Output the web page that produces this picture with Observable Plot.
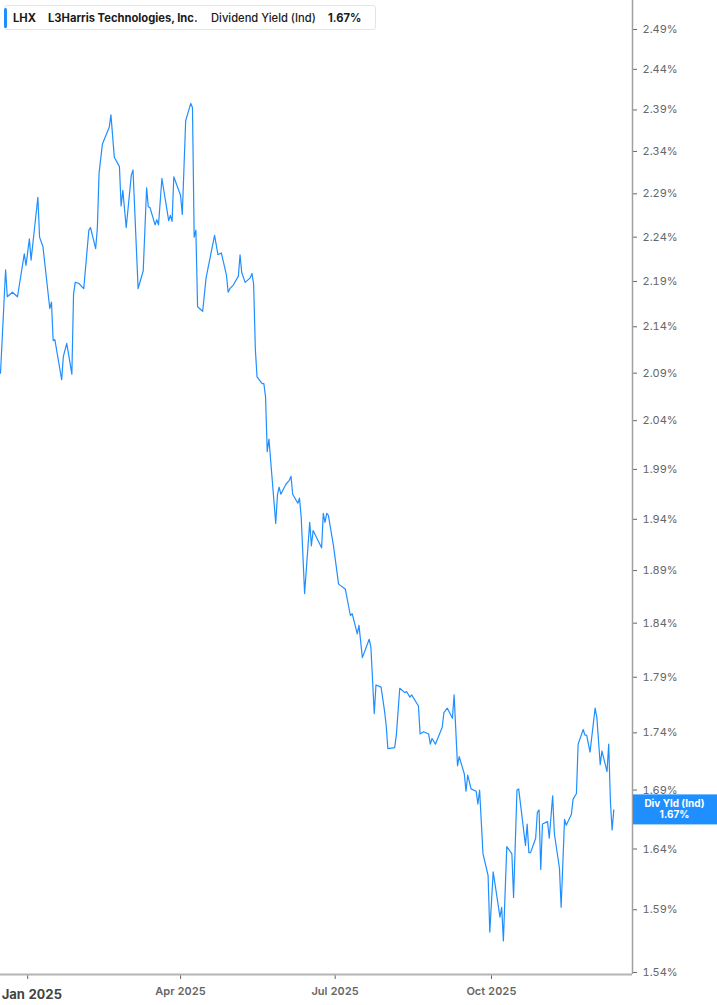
<!DOCTYPE html>
<html>
<head>
<meta charset="utf-8">
<script src="https://cdn.jsdelivr.net/npm/d3@7"></script>
<script src="https://cdn.jsdelivr.net/npm/@observablehq/plot@0.6"></script>
<style>
  html, body { margin: 0; padding: 0; background: #fff; }
  body { font-family: Inter, "Noto Sans", sans-serif; }
  #wrap { position: relative; width: 717px; height: 1005px; overflow: hidden; }
  #legend {
    position: absolute; left: 4px; top: 5px; width: 372px; height: 25px;
    background: #fff; border: 1px solid #e4e4e4; border-radius: 3px; box-sizing: border-box;
    font-size: 11.2px; color: #1a1a1a;
  }
  #legend .bar { position: absolute; left: -1px; top: 2px; width: 3px; height: 20px; background: #1f8fff; border-radius: 2px; }
  #legend span.t { position: absolute; top: 5px; white-space: nowrap; line-height: 14px; }
</style>
</head>
<body>
<div id="wrap">
  <div id="chart"></div>
  <div id="legend">
    <div class="bar"></div>
    <span class="t" id="lg-ticker" style="left:8px;font-weight:700"></span>
    <span class="t" id="lg-name" style="left:43px;font-weight:700"></span>
    <span class="t" id="lg-metric" style="left:206px;font-weight:500"></span>
    <span class="t" id="lg-value" style="left:323px;font-weight:700"></span>
  </div>
</div>
<script>
// ---- data ----
const dates = [
  "2024-12-16","2024-12-19","2024-12-20","2024-12-23","2024-12-26","2024-12-30","2024-12-31",
  "2025-01-02","2025-01-03","2025-01-07","2025-01-08","2025-01-10","2025-01-14","2025-01-15",
  "2025-01-16","2025-01-17","2025-01-21","2025-01-22","2025-01-24","2025-01-27","2025-01-28",
  "2025-01-29","2025-01-31","2025-02-03","2025-02-06","2025-02-07","2025-02-10","2025-02-11",
  "2025-02-12","2025-02-14","2025-02-18","2025-02-19","2025-02-21","2025-02-24","2025-02-25",
  "2025-02-26","2025-02-28","2025-03-03","2025-03-04","2025-03-07","2025-03-10","2025-03-12",
  "2025-03-13","2025-03-14","2025-03-17","2025-03-18","2025-03-19","2025-03-21","2025-03-25",
  "2025-03-26","2025-03-27","2025-03-28","2025-04-01","2025-04-02","2025-04-04","2025-04-07",
  "2025-04-08","2025-04-09","2025-04-10","2025-04-11","2025-04-14","2025-04-16","2025-04-21",
  "2025-04-23","2025-04-25","2025-04-28","2025-04-29","2025-04-30","2025-05-02","2025-05-05",
  "2025-05-06","2025-05-07","2025-05-09","2025-05-12","2025-05-13","2025-05-14","2025-05-15",
  "2025-05-16","2025-05-19","2025-05-20","2025-05-21","2025-05-22","2025-05-23","2025-05-27",
  "2025-05-28","2025-05-29","2025-05-30","2025-06-02","2025-06-04","2025-06-05","2025-06-06",
  "2025-06-09","2025-06-10","2025-06-11","2025-06-13","2025-06-16","2025-06-17","2025-06-18",
  "2025-06-23","2025-06-24","2025-06-25","2025-06-26","2025-06-27","2025-06-30","2025-07-03",
  "2025-07-07","2025-07-09","2025-07-10","2025-07-11","2025-07-14","2025-07-15","2025-07-17",
  "2025-07-21","2025-07-22","2025-07-24","2025-07-25","2025-07-28","2025-07-30","2025-07-31",
  "2025-08-01","2025-08-05","2025-08-06","2025-08-08","2025-08-11","2025-08-12","2025-08-14",
  "2025-08-15","2025-08-19","2025-08-20","2025-08-22","2025-08-25","2025-08-26","2025-08-27",
  "2025-08-29","2025-09-02","2025-09-03","2025-09-05","2025-09-08","2025-09-09","2025-09-11",
  "2025-09-12","2025-09-15","2025-09-16","2025-09-17","2025-09-19","2025-09-22","2025-09-23",
  "2025-09-24","2025-09-26","2025-09-29","2025-09-30","2025-10-02","2025-10-06","2025-10-07",
  "2025-10-08","2025-10-10","2025-10-13","2025-10-14","2025-10-16","2025-10-17","2025-10-21",
  "2025-10-22","2025-10-23","2025-10-24","2025-10-27","2025-10-28","2025-10-29","2025-10-30",
  "2025-10-31","2025-11-03","2025-11-04","2025-11-06","2025-11-07","2025-11-10","2025-11-11",
  "2025-11-13","2025-11-14","2025-11-17","2025-11-18","2025-11-20","2025-11-21","2025-11-24",
  "2025-11-25","2025-11-26","2025-11-28","2025-12-01","2025-12-02","2025-12-04","2025-12-05",
  "2025-12-08","2025-12-09","2025-12-10","2025-12-11","2025-12-12"
];
const divYield = [
  2.090,2.203,2.173,2.178,2.173,2.221,2.208,
  2.238,2.214,2.286,2.240,2.229,2.160,2.167,
  2.125,2.126,2.083,2.108,2.122,2.089,2.176,
  2.189,2.188,2.182,2.248,2.251,2.227,2.250,
  2.314,2.349,2.369,2.384,2.333,2.322,2.276,
  2.294,2.251,2.312,2.318,2.182,2.202,2.297,
  2.275,2.274,2.254,2.260,2.254,2.308,2.259,
  2.265,2.258,2.310,2.288,2.266,2.377,2.398,
  2.393,2.240,2.248,2.162,2.157,2.194,2.242,
  2.220,2.222,2.197,2.178,2.182,2.186,2.196,
  2.220,2.200,2.189,2.194,2.199,2.187,2.116,
  2.086,2.079,2.079,2.065,2.008,2.021,1.936,
  1.964,1.972,1.965,1.975,1.979,1.983,1.965,
  1.956,1.961,1.942,1.868,1.937,1.914,1.929,
  1.912,1.946,1.937,1.946,1.944,1.914,1.877,
  1.872,1.855,1.847,1.849,1.830,1.838,1.808,
  1.825,1.818,1.757,1.783,1.781,1.760,1.747,
  1.726,1.727,1.738,1.780,1.776,1.777,1.772,
  1.774,1.764,1.739,1.741,1.739,1.730,1.735,
  1.730,1.745,1.758,1.762,1.753,1.774,1.711,
  1.719,1.704,1.689,1.703,1.691,1.689,1.678,
  1.690,1.636,1.618,1.572,1.621,1.584,1.592,
  1.565,1.642,1.636,1.600,1.690,1.691,1.643,
  1.661,1.637,1.637,1.649,1.671,1.673,1.623,
  1.661,1.663,1.649,1.685,1.653,1.624,1.592,
  1.665,1.660,1.669,1.682,1.687,1.730,1.743,
  1.738,1.738,1.723,1.762,1.754,1.712,1.724,
  1.706,1.730,1.680,1.656,1.673
];
const yTicks = [1.54,1.59,1.64,1.69,1.74,1.79,1.84,1.89,1.94,1.99,2.04,2.09,2.14,2.19,2.24,2.29,2.34,2.39,2.44,2.49];
const xTickDates = ["2025-01-01","2025-04-01","2025-07-01","2025-10-01"];
const xTickLabels = ["Jan 2025","Apr 2025","Jul 2025","Oct 2025"];
const xDomain = ["2024-12-16","2025-12-23"];
const yDomain = [1.5384, 2.5271];
const ticker = "LHX";
const company = "L3Harris Technologies, Inc.";
const metric = "Dividend Yield (Ind)";
const endLabel = "Div Yld (Ind)";

// ---- build ----
const parse = d3.utcParse("%Y-%m-%d");
const data = dates.map((d, i) => ({date: parse(d), value: divYield[i]}));
const last = data[data.length - 1];
const fmtPct = v => d3.format(".2f")(v) + "%";
const blue = "#1f8fff";
const tickDates = xTickDates.map(parse);
const labelOf = d => xTickLabels[tickDates.findIndex(t => +t === +d)];

const plot = Plot.plot({
  width: 717,
  height: 1005,
  marginLeft: 0,
  marginRight: 85,
  marginTop: 0,
  marginBottom: 31,
  style: {fontFamily: "Inter, 'Noto Sans', sans-serif", fontSize: "11px", background: "#fff", overflow: "visible"},
  x: {type: "utc", domain: xDomain.map(parse), axis: null, label: null},
  y: {type: "log", domain: yDomain, axis: null, label: null},
  marks: [
    Plot.axisY(yTicks, {anchor: "right", label: null, tickSize: 4, tickPadding: 6, tickFormat: fmtPct, color: "#666", fontSize: 11, strokeWidth: 1}),
    // ticks for all months, labels for all but the first (bold, left-aligned) one
    Plot.axisX(tickDates, {anchor: "bottom", label: null, tickSize: 5, tickPadding: 8,
      tickFormat: d => (+d === +tickDates[0] ? "" : labelOf(d)), color: "#666", fontSize: 11, fontWeight: 600}),
    Plot.axisX([tickDates[0]], {anchor: "bottom", label: null, tickSize: 0, tickPadding: 15, tickFormat: labelOf,
      fill: "#444", fontSize: 13, fontWeight: "bold", textAnchor: "start", dx: -26}),
    Plot.ruleX([parse(xDomain[1])], {stroke: "#a0a0a0", strokeWidth: 1.5}),
    Plot.ruleY([yDomain[0]], {stroke: "#b4b4b4", strokeWidth: 2}),
    Plot.line(data, {x: "date", y: "value", stroke: blue, strokeWidth: 1.2, curve: "linear"})
  ]
});
document.getElementById("chart").appendChild(plot);

// end-of-series value label, positioned with the plot's own scales
const sx = plot.scale("x"), sy = plot.scale("y");
const xr = sx.apply(parse(xDomain[1]));
const yv = sy.apply(last.value);
const g = d3.select(plot).append("g").attr("font-family", "Inter, 'Noto Sans', sans-serif");
g.append("rect").attr("x", xr + 1).attr("y", yv - 15).attr("width", 717 - xr - 1).attr("height", 30).attr("fill", blue);
g.append("text").attr("x", (xr + 717) / 2).attr("y", yv - 5.5).attr("text-anchor", "middle").attr("dominant-baseline", "middle")
  .attr("fill", "#fff").attr("font-size", 10).attr("font-weight", 700).text(endLabel);
g.append("text").attr("x", (xr + 717) / 2).attr("y", yv + 5.5).attr("text-anchor", "middle").attr("dominant-baseline", "middle")
  .attr("fill", "#fff").attr("font-size", 10).attr("font-weight", 700).text(fmtPct(last.value));

// legend text
document.getElementById("lg-ticker").textContent = ticker;
document.getElementById("lg-name").textContent = company;
document.getElementById("lg-metric").textContent = metric;
document.getElementById("lg-value").textContent = fmtPct(last.value);
</script>
</body>
</html>
